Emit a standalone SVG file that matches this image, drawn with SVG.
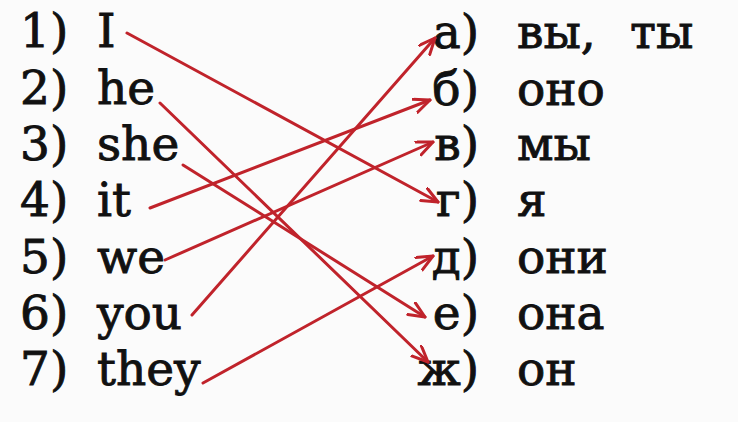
<svg xmlns="http://www.w3.org/2000/svg" width="738" height="422" viewBox="0 0 738 422">
  <style>
    .t { font-family: "DejaVu Serif", "Liberation Serif", serif; font-size: 47px; fill: #111; stroke: #111; stroke-width: 0.9px; }
    .r { text-anchor: end; }
    .c { fill: none; stroke: #c0232b; stroke-width: 3; stroke-linecap: round; }
  </style>
  <defs>
    <marker id="ah" markerUnits="userSpaceOnUse" markerWidth="20" markerHeight="18" refX="17" refY="8" orient="auto">
      <path d="M1,1 L17,8 L1,15" fill="none" stroke="#c0232b" stroke-width="3" stroke-linecap="round" stroke-linejoin="round"/>
    </marker>
  </defs>
  <rect width="738" height="422" fill="#fbfbfb"/>

  <g id="n1"><text class="t" x="20" y="47">1)</text><text class="t" x="97" y="47">I</text></g>
  <g id="n2"><text class="t" x="20" y="104">2)</text><text class="t" x="97" y="104">he</text></g>
  <g id="n3"><text class="t" x="20" y="160">3)</text><text class="t" x="97" y="160">she</text></g>
  <g id="n4"><text class="t" x="20" y="216">4)</text><text class="t" x="97" y="216">it</text></g>
  <g id="n5"><text class="t" x="20" y="273">5)</text><text class="t" x="97" y="273">we</text></g>
  <g id="n6"><text class="t" x="20" y="329">6)</text><text class="t" x="97" y="329">you</text></g>
  <g id="n7"><text class="t" x="20" y="385">7)</text><text class="t" x="97" y="385">they</text></g>

  <g id="na"><text class="t r" x="479" y="48">а)</text><text class="t" x="517" y="48">вы,</text><text class="t" x="630" y="48">ты</text></g>
  <g id="nb"><text class="t r" x="479" y="105">б)</text><text class="t" x="517" y="105">оно</text></g>
  <g id="nv"><text class="t r" x="479" y="160">в)</text><text class="t" x="517" y="160">мы</text></g>
  <g id="ng"><text class="t r" x="479" y="216">г)</text><text class="t" x="517" y="216">я</text></g>
  <g id="nd"><text class="t r" x="479" y="273">д)</text><text class="t" x="517" y="273">они</text></g>
  <g id="ne"><text class="t r" x="479" y="329">е)</text><text class="t" x="517" y="329">она</text></g>
  <g id="nzh"><text class="t r" x="479" y="385">ж)</text><text class="t" x="517" y="385">он</text></g>

  <g id="connectors">
    <line class="c" x1="127" y1="33" x2="438" y2="202" marker-end="url(#ah)"/>
    <line class="c" x1="160" y1="103" x2="428" y2="362" marker-end="url(#ah)"/>
    <line class="c" x1="183" y1="165" x2="425" y2="317" marker-end="url(#ah)"/>
    <line class="c" x1="150" y1="208" x2="430" y2="100" marker-end="url(#ah)"/>
    <line class="c" x1="165" y1="260" x2="433" y2="142" marker-end="url(#ah)"/>
    <line class="c" x1="192" y1="315" x2="435" y2="38" marker-end="url(#ah)"/>
    <line class="c" x1="203" y1="383" x2="433" y2="256" marker-end="url(#ah)"/>
  </g>
</svg>
